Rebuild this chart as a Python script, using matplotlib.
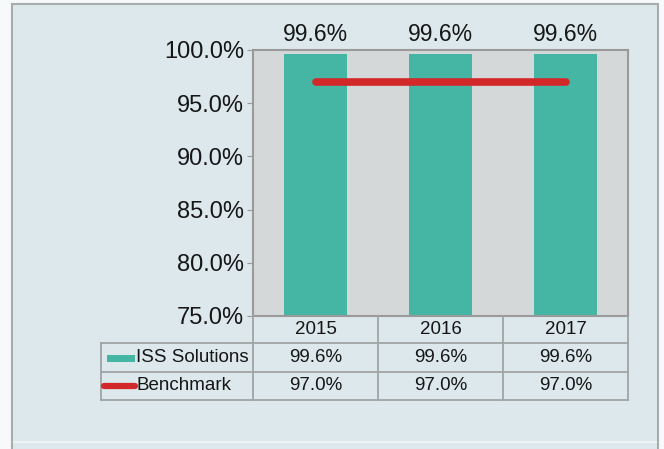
import matplotlib.pyplot as plt
import numpy as np
from matplotlib.patches import Rectangle
from matplotlib.lines import Line2D

plt.rcParams['font.family'] = ['Liberation Sans', 'DejaVu Sans']

years = ['2015', '2016', '2017']
iss = [99.6, 99.6, 99.6]
benchmark = [97.0, 97.0, 97.0]
yticks = [75.0, 80.0, 85.0, 90.0, 95.0, 100.0]

W, H = 664, 449
teal = '#45b5a4'
red = '#d3282a'
bg = '#dce8ec'
plot_bg = '#d5d8d9'
grid_c = '#9a9a9a'
txt = '#161616'


def fx(px):
    return px / W


def fy(py):
    return 1 - py / H


fig = plt.figure(figsize=(W / 100, H / 100), dpi=100)
fig.patch.set_facecolor('#f7f9fa')

# outer frame
fig.patches.append(Rectangle((fx(12), fy(460)), fx(658) - fx(12), fy(4) - fy(460),
                             transform=fig.transFigure, facecolor=bg,
                             edgecolor='#a8acad', lw=1.5, zorder=-10))
fig.lines.append(Line2D([fx(14), fx(656)], [fy(442), fy(442)],
                        transform=fig.transFigure, color='#eef3f4', lw=1.5, zorder=-9))

# main plot
x0, x1, ytop, ybot = 253, 628, 50, 316
ax = fig.add_axes([fx(x0), fy(ybot), fx(x1) - fx(x0), fy(ytop) - fy(ybot)])
ax.set_facecolor(plot_bg)
x = np.arange(len(years))
ax.bar(x, iss, width=0.5, color=teal, zorder=2)
ax.plot(x, benchmark, color=red, lw=5.5, solid_capstyle='round', zorder=3)
for xi, v in zip(x, iss):
    ax.text(xi, 100.4, f'{v:.1f}%', ha='center', va='bottom', fontsize=16.5,
            color=txt, clip_on=False)
ax.set_xlim(-0.5, len(years) - 0.5)
ax.set_ylim(75, 100)
ax.set_yticks(yticks)
ax.set_yticklabels([f'{t:.1f}%' for t in yticks], fontsize=17, color=txt)
ax.set_xticks([])
ax.tick_params(axis='y', length=4, color=grid_c, pad=2.5)
for s in ax.spines.values():
    s.set_color(grid_c)
    s.set_linewidth(1.5)

# data table
tax = fig.add_axes([fx(101), fy(400), fx(628) - fx(101), fy(316) - fy(400)])
tax.set_xlim(101, 628)
tax.set_ylim(400, 316)
tax.axis('off')
cols = [253, 378, 503, 628]
rows = [316, 343, 372, 400]
lc = '#a0a4a5'
for c in cols:
    tax.plot([c, c], [316, 400], color=lc, lw=1.3, clip_on=False)
tax.plot([101, 101], [343, 400], color=lc, lw=1.3, clip_on=False)
for r in rows[1:]:
    tax.plot([101, 628], [r, r], color=lc, lw=1.3, clip_on=False)
tfs = 13.5
for i, yr in enumerate(years):
    cx = (cols[i] + cols[i + 1]) / 2
    tax.text(cx, 330, yr, ha='center', va='center', fontsize=tfs, color=txt)
    tax.text(cx, 358, f'{iss[i]:.1f}%', ha='center', va='center', fontsize=tfs, color=txt)
    tax.text(cx, 386, f'{benchmark[i]:.1f}%', ha='center', va='center', fontsize=tfs, color=txt)
tax.add_patch(Rectangle((107, 355), 28, 7, facecolor=teal, edgecolor='none'))
tax.plot([104, 135], [386, 386], color=red, lw=4.5, solid_capstyle='round', clip_on=False)
tax.text(136, 358, 'ISS Solutions', ha='left', va='center', fontsize=tfs, color=txt)
tax.text(136, 386, 'Benchmark', ha='left', va='center', fontsize=tfs, color=txt)

fig.savefig('out.png', dpi=100, facecolor=fig.get_facecolor())
